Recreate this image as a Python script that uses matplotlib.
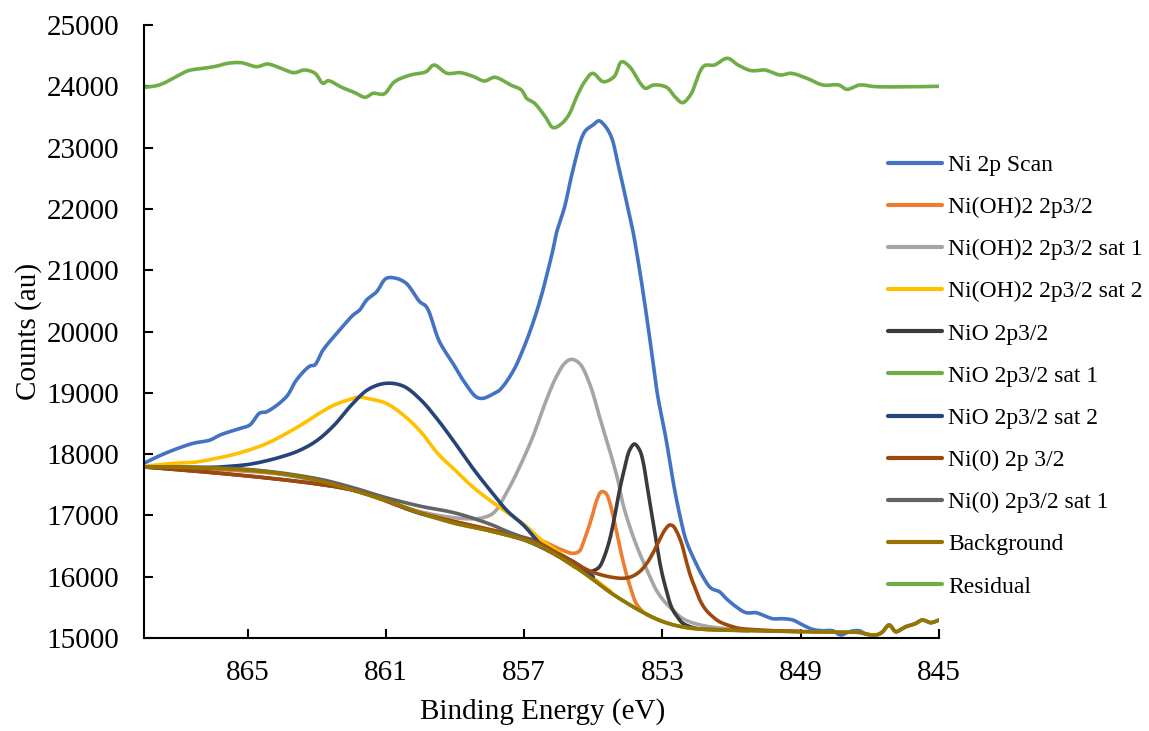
import numpy as np
import matplotlib
matplotlib.use("Agg")
import matplotlib.pyplot as plt

plt.rcParams['font.family'] = ['Liberation Serif', 'DejaVu Serif']

# Ni 2p3/2 region, binding energy (eV) vs counts
scan_e = [868.0, 867.6, 867.15, 866.58, 866.09, 865.8, 865.22, 864.94, 864.65, 864.45,
          863.88, 863.59, 863.2, 863.06, 862.82, 862.34, 861.95, 861.76, 861.56, 861.27,
          860.99, 860.7, 860.41, 860.02, 859.83, 859.45, 859.06, 858.77, 858.38, 858.19,
          857.9, 857.71, 857.33, 857.04, 856.75, 856.51, 856.31, 856.17, 856.07, 855.83,
          855.59, 855.25, 855.01, 854.84, 854.68, 854.48, 854.29, 854.05, 853.86, 853.66,
          853.47, 853.28, 853.14, 852.89, 852.7, 852.51, 852.32, 852.12, 851.83, 851.59,
          851.35, 851.16, 850.87, 850.58, 850.29, 850.1, 849.81, 849.52, 849.23, 848.94,
          848.66, 848.37, 848.08, 847.84, 847.6, 847.31, 847.11, 846.92, 846.75, 846.63,
          846.44, 846.25, 846.1, 845.96, 845.7, 845.48, 845.24, 845.0]
scan_c = [17850, 17960, 18066, 18176, 18229, 18311, 18420, 18474, 18670, 18691,
          18936, 19208, 19436, 19453, 19697, 20023, 20268, 20350, 20513, 20648,
          20867, 20867, 20785, 20485, 20404, 19833, 19480, 19208, 18930, 18910,
          18980, 19045, 19343, 19697, 20133, 20567, 21002, 21328, 21600, 22034,
          22633, 23258, 23367, 23437, 23367, 23176, 22742, 22144, 21655, 21002,
          20296, 19534, 18960, 18229, 17577, 17034, 16598, 16326, 16000, 15811,
          15755, 15647, 15510, 15413, 15413, 15375, 15315, 15315, 15294, 15212,
          15141, 15119, 15119, 15049, 15103, 15119, 15065, 15049, 15060, 15103,
          15212, 15103, 15140, 15184, 15230, 15294, 15250, 15294]

nioh_e = [868.0, 864.0, 862.0, 860.0, 858.0, 857.0, 856.55, 856.0, 855.59, 855.4,
          855.3, 855.15, 855.01, 854.9, 854.77, 854.65, 854.58, 854.45, 854.34, 854.2,
          854.05, 853.9, 853.76, 853.5, 853.0]
nioh_c = [17790, 17670, 17420, 17040, 16770, 16630, 16598, 16460, 16381, 16420,
          16545, 16780, 17034, 17250, 17386, 17370, 17305, 17050, 16761, 16400,
          16055, 15780, 15566, 15400, 15270]

nioh_sat1_e = [868.0, 866.0, 864.0, 862.0, 860.0, 859.0, 858.6, 858.29, 857.9, 857.52,
               857.13, 856.75, 856.36, 856.07, 855.83, 855.64, 855.4, 855.11, 854.82, 854.53,
               854.29, 854.15, 853.9, 853.66, 853.4, 853.18, 852.95, 852.7, 852.45, 852.22,
               851.8, 851.26, 850.5, 849.0]
nioh_sat1_c = [17790, 17770, 17670, 17420, 17060, 16960, 16945, 16952, 17034, 17360,
               17794, 18283, 18882, 19262, 19480, 19546, 19480, 19154, 18609, 18066,
               17577, 17200, 16740, 16381, 16050, 15783, 15600, 15457, 15330, 15266,
               15200, 15158, 15130, 15110]

nioh_sat2_e = [868.0, 867.15, 866.5, 866.0, 865.5, 865.0, 864.5, 864.0, 863.5, 863.0,
               862.5, 862.0, 861.8, 861.5, 861.0, 860.5, 860.0, 859.5, 859.0, 858.5,
               858.0, 857.5, 857.0, 856.5, 856.0, 855.5, 855.0, 854.5]
nioh_sat2_c = [17800, 17849, 17870, 17920, 17980, 18060, 18160, 18300, 18460, 18640,
               18800, 18900, 18930, 18905, 18830, 18640, 18370, 18010, 17740, 17470,
               17250, 17050, 16850, 16600, 16400, 16200, 15980, 15760]

nio_e = [868.0, 862.0, 860.0, 858.0, 857.0, 856.0, 855.5, 855.3, 855.11, 854.95,
         854.82, 854.68, 854.53, 854.38, 854.24, 854.1, 853.95, 853.81, 853.66, 853.55,
         853.47, 853.38, 853.28, 853.18, 853.09, 852.99, 852.89, 852.8, 852.7, 852.55,
         852.41, 852.03, 851.5, 850.5]
nio_c = [17790, 17420, 17030, 16750, 16600, 16330, 16150, 16109, 16082, 16110,
         16163, 16330, 16598, 16990, 17414, 17760, 18066, 18164, 18066, 17850,
         17577, 17260, 16925, 16580, 16272, 16000, 15783, 15600, 15457, 15330,
         15240, 15158, 15135, 15120]

nio_sat2_e = [868.0, 866.0, 865.7, 865.0, 864.5, 864.0, 863.5, 863.0, 862.5, 862.0,
              861.5, 861.0, 860.5, 860.0, 859.5, 859.0, 858.5, 858.0, 857.5, 857.0,
              856.5, 856.0, 855.5, 855.0]
nio_sat2_c = [17790, 17785, 17794, 17830, 17885, 17960, 18060, 18220, 18470, 18800,
              19060, 19155, 19110, 18890, 18560, 18180, 17780, 17420, 17080, 16830,
              16520, 16370, 16220, 16000]

ni0_e = [868.0, 862.0, 860.0, 858.0, 857.0, 856.55, 856.0, 855.59, 855.2, 854.92,
         854.5, 854.15, 853.9, 853.66, 853.45, 853.28, 853.13, 852.99, 852.88, 852.8,
         852.7, 852.61, 852.45, 852.32, 852.18, 852.03, 851.9, 851.74, 851.55, 851.35,
         851.0, 850.78, 850.3, 849.81, 849.0]
ni0_c = [17790, 17420, 17040, 16770, 16640, 16545, 16370, 16245, 16120, 16055,
         15995, 15974, 16000, 16082, 16220, 16381, 16550, 16708, 16800, 16843,
         16830, 16761, 16550, 16272, 16000, 15783, 15600, 15457, 15350, 15266,
         15190, 15158, 15135, 15119, 15105]

ni0_sat1_e = [868.0, 865.0, 863.0, 862.0, 861.0, 860.0, 859.0, 858.0, 857.5, 857.0,
              856.5, 856.0]
ni0_sat1_c = [17790, 17750, 17600, 17460, 17290, 17150, 17040, 16860, 16740, 16630,
              16500, 16330]

bg_e = [868.0, 867.0, 866.0, 865.0, 864.0, 863.0, 862.0, 861.0, 860.0, 859.0,
        858.0, 857.0, 856.5, 856.0, 855.5, 855.0, 854.5, 854.0, 853.5, 853.0,
        852.5, 852.0, 851.0, 850.0, 849.0, 848.0, 847.3, 847.11, 846.92, 846.75,
        846.63, 846.44, 846.25, 846.1, 845.96, 845.7, 845.48, 845.24, 845.0]
bg_c = [17790, 17785, 17770, 17740, 17680, 17575, 17420, 17245, 17040, 16870,
        16750, 16600, 16490, 16330, 16150, 15950, 15740, 15560, 15400, 15270,
        15190, 15150, 15130, 15115, 15105, 15095, 15090, 15065, 15049, 15060,
        15103, 15212, 15103, 15140, 15184, 15230, 15294, 15250, 15294]

# NiO sat 1 lies on the background over the whole window
nio_sat1_e = list(bg_e)
nio_sat1_c = list(bg_c)

resid_e = [868.0, 867.56, 867.1, 866.72, 866.26, 865.88, 865.58, 865.19, 864.73, 864.43,
           864.04, 863.66, 863.36, 863.05, 862.82, 862.67, 862.28, 861.9, 861.6, 861.37,
           861.06, 860.75, 860.29, 859.84, 859.61, 859.23, 858.84, 858.46, 858.15, 857.85,
           857.39, 857.08, 856.93, 856.7, 856.39, 856.16, 855.93, 855.71, 855.48, 855.25,
           855.02, 854.71, 854.4, 854.18, 853.95, 853.64, 853.49, 853.26, 852.88, 852.64,
           852.42, 852.19, 851.8, 851.5, 851.12, 850.81, 850.43, 850.04, 849.59, 849.28,
           848.82, 848.36, 847.9, 847.67, 847.29, 846.83, 845.0]
resid_c = [23982, 24021, 24147, 24255, 24294, 24331, 24375, 24385, 24320, 24364,
           24294, 24222, 24266, 24212, 24049, 24091, 23984, 23896, 23821, 23886,
           23874, 24075, 24184, 24238, 24347, 24212, 24222, 24157, 24086, 24147,
           24021, 23940, 23804, 23723, 23504, 23325, 23385, 23532, 23830, 24075,
           24212, 24075, 24157, 24401, 24320, 24049, 23967, 24021, 23984, 23830,
           23733, 23858, 24331, 24347, 24457, 24347, 24255, 24266, 24184, 24212,
           24130, 24021, 24021, 23951, 24021, 23994, 24000]

series = [
    ("Ni 2p Scan", scan_e, scan_c, "#4472C4"),
    ("Ni(OH)2 2p3/2", nioh_e, nioh_c, "#ED7D31"),
    ("Ni(OH)2 2p3/2 sat 1", nioh_sat1_e, nioh_sat1_c, "#A5A5A5"),
    ("Ni(OH)2 2p3/2 sat 2", nioh_sat2_e, nioh_sat2_c, "#FFC000"),
    ("NiO 2p3/2", nio_e, nio_c, "#3B3B3B"),
    ("NiO 2p3/2 sat 1", nio_sat1_e, nio_sat1_c, "#70AD47"),
    ("NiO 2p3/2 sat 2", nio_sat2_e, nio_sat2_c, "#264478"),
    ("Ni(0) 2p 3/2", ni0_e, ni0_c, "#9E480E"),
    ("Ni(0) 2p3/2 sat 1", ni0_sat1_e, ni0_sat1_c, "#636363"),
    ("Background", bg_e, bg_c, "#997300"),
    ("Residual", resid_e, resid_c, "#70AD47"),
]


def smooth_line(xs, ys, sx=34.6, sy=0.0613, steps=10):
    """Centripetal Catmull-Rom path through the points (spreadsheet-style smoothed line)."""
    p = np.column_stack([np.asarray(xs, float) * sx, np.asarray(ys, float) * sy])
    p = np.vstack([p[0], p, p[-1]])
    out = [p[1]]
    for i in range(1, len(p) - 2):
        p0, p1, p2, p3 = p[i - 1], p[i], p[i + 1], p[i + 2]
        t0 = 0.0
        t1 = t0 + max(np.linalg.norm(p1 - p0), 1e-6) ** 0.5
        t2 = t1 + max(np.linalg.norm(p2 - p1), 1e-6) ** 0.5
        t3 = t2 + max(np.linalg.norm(p3 - p2), 1e-6) ** 0.5
        for t in np.linspace(t1, t2, steps + 1)[1:]:
            a1 = (t1 - t) / (t1 - t0) * p0 + (t - t0) / (t1 - t0) * p1
            a2 = (t2 - t) / (t2 - t1) * p1 + (t - t1) / (t2 - t1) * p2
            a3 = (t3 - t) / (t3 - t2) * p2 + (t - t2) / (t3 - t2) * p3
            b1 = (t2 - t) / (t2 - t0) * a1 + (t - t0) / (t2 - t0) * a2
            b2 = (t3 - t) / (t3 - t1) * a2 + (t - t1) / (t3 - t1) * a3
            out.append((t2 - t) / (t2 - t1) * b1 + (t - t1) / (t2 - t1) * b2)
    out = np.array(out)
    return out[:, 0] / sx, out[:, 1] / sy


fig = plt.figure(figsize=(11.49, 7.31), dpi=100)
ax = fig.add_axes([0.1253, 0.1272, 0.6919, 0.8386])

for name, e, c, col in series:
    sx_, sy_ = smooth_line(e, c)
    ax.plot(sx_, sy_, color=col, lw=2.6, label=name,
            solid_joinstyle='round', solid_capstyle='round')

ax.set_xlim(868, 845)
ax.set_ylim(15000, 25000)
ax.set_xticks([865, 861, 857, 853, 849, 845])
ax.set_yticks(np.arange(15000, 25001, 1000))

for side in ['top', 'right']:
    ax.spines[side].set_visible(False)
for side in ['left', 'bottom']:
    ax.spines[side].set_linewidth(1.5)

ax.tick_params(axis='both', direction='in', length=6.5, width=1.5, labelsize=21)
ax.tick_params(axis='x', pad=16)
ax.tick_params(axis='y', pad=18)

ax.set_xlabel('Binding Energy (eV)', fontsize=21)
ax.set_ylabel('Counts (au)', fontsize=21)
ax.xaxis.set_label_coords(0.501, -0.098)
ax.yaxis.set_label_coords(-0.128, 0.5)

leg = ax.legend(loc='upper left', bbox_to_anchor=(0.7728, 0.789),
                bbox_transform=fig.transFigure, frameon=False, fontsize=17,
                handlelength=2.29, handletextpad=0.25, labelspacing=0.875,
                borderpad=0, borderaxespad=0)
for h in leg.get_lines():
    h.set_linewidth(3.0)

fig.savefig('out.png', dpi=100)
